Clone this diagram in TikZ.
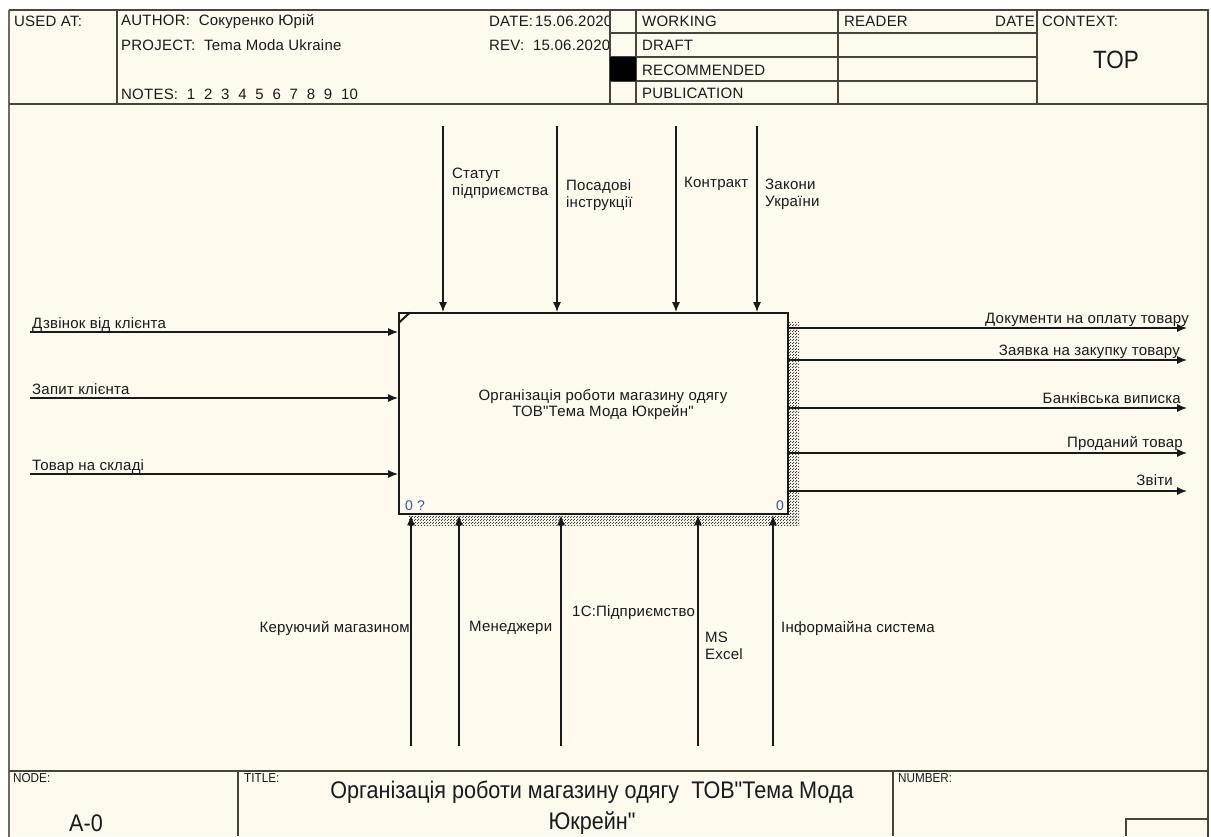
\documentclass[tikz,border=0pt]{standalone}
\usepackage{fontspec}
\setmainfont{Liberation Sans}[LetterSpace=1.5, Ligatures=TeXOff]
\newfontfamily\narrowfont[FakeStretch=0.9, Ligatures=TeXOff]{Liberation Sans}
\usetikzlibrary{arrows.meta,patterns}
\definecolor{paper}{HTML}{FFF9EE}
\definecolor{ink}{HTML}{1A1A1A}
\definecolor{rule}{HTML}{45453E}
\definecolor{numblue}{HTML}{3A5590}
\pgfdeclarepatternformonly{idefchecker}{\pgfpointorigin}{\pgfpoint{3pt}{3pt}}{\pgfpoint{3pt}{3pt}}{%
  \pgfpathrectangle{\pgfpointorigin}{\pgfpoint{1.3pt}{1.3pt}}%
  \pgfpathrectangle{\pgfpoint{1.5pt}{1.5pt}}{\pgfpoint{1.3pt}{1.3pt}}%
  \pgfusepath{fill}}
\begin{document}
\begin{tikzpicture}[x=1pt,y=-1pt,
  lbl/.style={font=\fontsize{15}{17}\selectfont, text=ink, inner sep=0pt, align=left},
  hdr/.style={font=\fontsize{15}{17}\selectfont, text=ink, inner sep=0pt, anchor=west},
  nhdr/.style={font=\narrowfont\fontsize{13}{15}\selectfont, text=ink, inner sep=0pt, anchor=west},
  arr/.style={draw=ink, line width=1.1pt, -{Latex[length=10pt,width=8pt]}},
  frame/.style={draw=rule, line width=1.2pt},
  shadow/.style={pattern=idefchecker, pattern color=black!75}
]
\useasboundingbox (0,0) rectangle (1211,836);
\fill[white] (0,0) rectangle (1211,836);
\fill[paper] (9,10) rectangle (1208,836);

% outer frame
\draw[draw=rule!80, line width=2.5pt] (9,840) -- (9,10);
\draw[frame] (9,10) -- (1208,10) -- (1208,840);

% header
\node[hdr] (date) at (489,21) {DATE:\hspace{2pt}15.06.2020};
\node[hdr] (rev) at (489,45) {REV:\ \ 15.06.2020};
\fill[paper] (611,11) rectangle (1207,103);
\draw[frame] (9,104) -- (1208,104);
\draw[frame] (117,10) -- (117,104);
\draw[frame] (610,10) -- (610,104);
\draw[frame] (636,10) -- (636,104);
\draw[frame] (838,10) -- (838,104);
\draw[frame] (1037,10) -- (1037,104);
\draw[frame] (610,33) -- (1037,33);
\draw[frame] (610,57) -- (1037,57);
\draw[frame] (610,81) -- (1037,81);
\fill[black] (610,57) rectangle (636,81);

\node[hdr] (usedat) at (14,21) {USED AT:};
\node[hdr] (author) at (121,21) {AUTHOR:\ \ Сокуренко Юрій};
\node[hdr] (project) at (121,45) {PROJECT:\ \ Tema Moda Ukraine};
\node[hdr] (notes) at (121,94) {NOTES:\ \ 1\ \ 2\ \ 3\ \ 4\ \ 5\ \ 6\ \ 7\ \ 8\ \ 9\ \ 10};
\node[hdr] (working) at (642,21) {WORKING};
\node[hdr] (draft) at (642,45) {DRAFT};
\node[hdr] (recom) at (642,70) {RECOMMENDED};
\node[hdr] (public) at (642,93) {PUBLICATION};
\node[hdr] (reader) at (844,21) {READER};
\node[hdr, anchor=east] (rdate) at (1035,21) {DATE};
\node[hdr] (context) at (1042,21) {CONTEXT:};
\node[font=\narrowfont\fontsize{25}{27}\selectfont, text=ink, inner sep=0pt] (top) at (1116,60) {TOP};

% footer
\draw[frame] (9,771) -- (1208,771);
\draw[frame] (238,771) -- (238,836);
\draw[frame] (893,771) -- (893,836);
\draw[frame] (1126,836) -- (1126,819) -- (1208,819);
\node[nhdr] (nodelbl) at (13,778) {NODE:};
\node[nhdr] (titlelbl) at (244,778) {TITLE:};
\node[nhdr] (numlbl) at (898,778) {NUMBER:};
\node[font=\narrowfont\fontsize{24}{26}\selectfont, text=ink, inner sep=0pt] (aname) at (86,823) {A-0};
\node[font=\narrowfont\fontsize{24}{31}\selectfont, text=ink, inner sep=0pt, align=center] (title) at (592,808)
  {Організація роботи магазину одягу\ \ ТОВ"Тема Мода\\Юкрейн"};

% activity box
\fill[shadow] (787,322) rectangle (799,525);
\fill[shadow] (409,513) rectangle (799,525);
\node[draw=ink, line width=2.4pt, fill=paper, minimum width=389pt, minimum height=201pt, inner sep=0pt, anchor=north west] (box) at (398,312) {};
\draw[draw=ink, line width=2pt] (398.5,323) -- (410,312.5);
\node[font=\fontsize{15}{16}\selectfont, text=ink, inner sep=0pt, align=center] (boxtext) at (603,405)
  {Організація роботи магазину одягу\\ТОВ"Тема Мода Юкрейн"};
\node[font=\fontsize{14}{15}\selectfont, text=numblue, inner sep=0pt, anchor=base west] (num1) at (405,510) {0 ?};
\node[font=\fontsize{14}{15}\selectfont, text=numblue, inner sep=0pt, anchor=base east] (num2) at (784,510) {0};

% inputs
\coordinate (i1) at (30,332);
\coordinate (i2) at (30,398);
\coordinate (i3) at (30,474);
\draw[arr] (i1) -- (i1 -| box.west);
\draw[arr] (i2) -- (i2 -| box.west);
\draw[arr] (i3) -- (i3 -| box.west);
\node[lbl, anchor=base west] (li1) at (32,328) {Дзвінок від клієнта};
\node[lbl, anchor=base west] (li2) at (32,394) {Запит клієнта};
\node[lbl, anchor=base west] (li3) at (32,470) {Товар на складі};

% outputs
\coordinate (o1) at (1187,328);
\coordinate (o2) at (1187,360);
\coordinate (o3) at (1187,408);
\coordinate (o4) at (1187,453);
\coordinate (o5) at (1187,491);
\draw[arr] (o1 -| box.east) -- (o1);
\draw[arr] (o2 -| box.east) -- (o2);
\draw[arr] (o3 -| box.east) -- (o3);
\draw[arr] (o4 -| box.east) -- (o4);
\draw[arr] (o5 -| box.east) -- (o5);
\node[lbl, anchor=base east] (lo1) at (1189,323) {Документи на оплату товару};
\node[lbl, anchor=base east] (lo2) at (1180,355) {Заявка на закупку товару};
\node[lbl, anchor=base east] (lo3) at (1181,403) {Банківська виписка};
\node[lbl, anchor=base east] (lo4) at (1183,447) {Проданий товар};
\node[lbl, anchor=base east] (lo5) at (1173,485) {Звіти};

% controls
\coordinate (c1) at (443,126);
\coordinate (c2) at (557,126);
\coordinate (c3) at (676,126);
\coordinate (c4) at (757,126);
\draw[arr] (c1) -- (c1 |- box.north);
\draw[arr] (c2) -- (c2 |- box.north);
\draw[arr] (c3) -- (c3 |- box.north);
\draw[arr] (c4) -- (c4 |- box.north);
\node[lbl, anchor=north west] (lc1) at (452,168) {Статут\\підприємства};
\node[lbl, anchor=north west] (lc2) at (566,179) {Посадові\\інструкції};
\node[lbl, anchor=north west] (lc3) at (684,177) {Контракт};
\node[lbl, anchor=north west] (lc4) at (765,179) {Закони\\України};

% mechanisms
\coordinate (m1) at (411,746);
\coordinate (m2) at (459,746);
\coordinate (m3) at (561,746);
\coordinate (m4) at (698,746);
\coordinate (m5) at (773,746);
\draw[arr] (m1) -- (m1 |- box.south);
\draw[arr] (m2) -- (m2 |- box.south);
\draw[arr] (m3) -- (m3 |- box.south);
\draw[arr] (m4) -- (m4 |- box.south);
\draw[arr] (m5) -- (m5 |- box.south);
\node[lbl, anchor=north east] (lm1) at (410,621) {Керуючий магазином};
\node[lbl, anchor=north west] (lm2) at (469,621) {Менеджери};
\node[lbl, anchor=north west] (lm3) at (572,605) {1С:Підприємство};
\node[lbl, anchor=north west] (lm4) at (705,632) {MS\\Excel};
\node[lbl, anchor=north west] (lm5) at (781,621) {Інформаійна система};
\end{tikzpicture}
\end{document}
